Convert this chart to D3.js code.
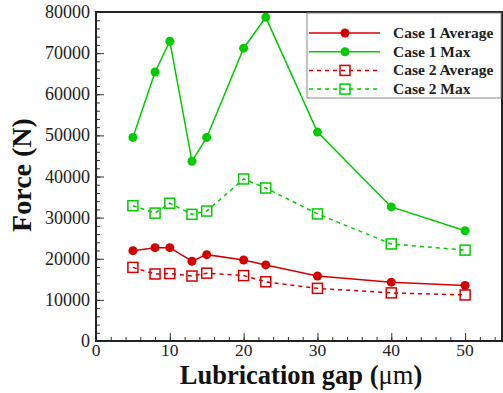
<!DOCTYPE html>
<html>
<head>
<meta charset="utf-8">
<script src="https://cdn.jsdelivr.net/npm/d3@7"></script>
<style>
  body { margin: 0; background: #fff; }
  text { font-family: "Liberation Serif", "Times New Roman", Times, serif; }
</style>
</head>
<body>
<script>
// chart data
var gaps = [5, 8, 10, 13, 15, 20, 23, 30, 40, 50];
var case1Avg = [21970, 22700, 22700, 19400, 21000, 19700, 18500, 15800, 14300, 13500];
var case1Max = [49500, 65400, 72900, 43700, 49500, 71200, 78700, 50800, 32600, 26800];
var case2Avg = [17900, 16300, 16400, 15800, 16500, 15900, 14400, 12800, 11700, 11200];
var case2Max = [32900, 31100, 33500, 30800, 31600, 39400, 37200, 30900, 23600, 22100];
var xTicks = [0, 10, 20, 30, 40, 50];
var yTicks = [0, 10000, 20000, 30000, 40000, 50000, 60000, 70000, 80000];

var red = "#d40000";
var green = "#00cc00";

var series = [
  {name: "Case 1 Average", values: case1Avg, color: red, dashed: false, marker: "circle"},
  {name: "Case 1 Max", values: case1Max, color: green, dashed: false, marker: "circle"},
  {name: "Case 2 Average", values: case2Avg, color: red, dashed: true, marker: "square"},
  {name: "Case 2 Max", values: case2Max, color: green, dashed: true, marker: "square"}
];

var svgWidth = 503;
var svgHeight = 393;
var margin = {top: 12, right: 1, bottom: 52, left: 96};
var width = svgWidth - margin.left - margin.right;
var height = svgHeight - margin.top - margin.bottom;

var svg = d3.select("body").append("svg")
    .attr("width", svgWidth)
    .attr("height", svgHeight);

var g = svg.append("g")
    .attr("transform", `translate(${margin.left}, ${margin.top})`);

var x = d3.scaleLinear().domain([0, 55]).range([0, width]);
var y = d3.scaleLinear().domain([0, 80000]).range([height, 0]);

// minor ticks first (inside)
g.append("g")
    .attr("transform", `translate(0, ${height})`)
    .call(d3.axisTop(x).tickValues(d3.range(0, 56, 2)).tickSize(4).tickFormat(""))
    .call(a => a.select(".domain").remove());
g.append("g")
    .call(d3.axisRight(y).tickValues(d3.range(0, 80001, 2000)).tickSize(4).tickFormat(""))
    .call(a => a.select(".domain").remove());

// major ticks
g.append("g")
    .attr("transform", `translate(0, ${height})`)
    .call(d3.axisTop(x).tickValues(xTicks).tickSize(8).tickFormat(""))
    .call(a => a.select(".domain").remove());
g.append("g")
    .call(d3.axisRight(y).tickValues(yTicks).tickSize(8).tickFormat(""))
    .call(a => a.select(".domain").remove());

g.selectAll(".tick line").attr("stroke", "#333").attr("stroke-width", 1);

// tick labels
g.selectAll(".xlab").data(xTicks).enter().append("text")
    .attr("x", d => x(d))
    .attr("y", height + 15)
    .attr("text-anchor", "middle")
    .attr("font-size", 17.5)
    .attr("fill", "#222")
    .text(d => d);
g.selectAll(".ylab").data(yTicks).enter().append("text")
    .attr("x", -6)
    .attr("y", d => y(d) + 6)
    .attr("text-anchor", "end")
    .attr("font-size", 18)
    .attr("fill", "#222")
    .text(d => d);

// frame
g.append("rect")
    .attr("width", width)
    .attr("height", height)
    .attr("fill", "none")
    .attr("stroke", "#222")
    .attr("stroke-width", 2);

var line = d3.line()
    .x((d, i) => x(gaps[i]))
    .y(d => y(d));

function drawMarker(sel, s, cx, cy) {
  if (s.marker == "circle") {
    sel.append("circle")
        .attr("cx", cx).attr("cy", cy).attr("r", 4.5)
        .attr("fill", s.color);
  } else {
    sel.append("rect")
        .attr("x", cx - 5).attr("y", cy - 5)
        .attr("width", 10).attr("height", 10)
        .attr("fill", "none")
        .attr("stroke", s.color)
        .attr("stroke-width", 1.5);
  }
}

series.forEach(function (s) {
  g.append("path")
      .datum(s.values)
      .attr("d", line)
      .attr("fill", "none")
      .attr("stroke", s.color)
      .attr("stroke-width", 1.5)
      .attr("stroke-dasharray", s.dashed ? "4,4" : null);
  s.values.forEach(function (v, i) {
    drawMarker(g, s, x(gaps[i]), y(v));
  });
});

// legend
var legend = svg.append("g").attr("transform", "translate(307, 13)");
legend.append("rect")
    .attr("width", 194)
    .attr("height", 85)
    .attr("fill", "#fff")
    .attr("stroke", "#888")
    .attr("stroke-width", 1);
series.forEach(function (s, i) {
  var ly = 20 + i * 18.7;
  legend.append("line")
      .attr("x1", 2).attr("x2", 73)
      .attr("y1", ly).attr("y2", ly)
      .attr("stroke", s.color)
      .attr("stroke-width", 1.5)
      .attr("stroke-dasharray", s.dashed ? "4,4" : null);
  drawMarker(legend, s, 38, ly);
  legend.append("text")
      .attr("x", 86)
      .attr("y", ly + 5)
      .attr("font-size", 15.5)
      .attr("font-weight", "bold")
      .attr("fill", "#222")
      .text(s.name);
});

// axis titles
var xTitle = svg.append("text")
    .attr("x", 301)
    .attr("y", 384)
    .attr("text-anchor", "middle")
    .attr("font-size", 26.5)
    .attr("font-weight", "bold")
    .attr("fill", "#111");
xTitle.append("tspan").text("Lubrication gap (");
xTitle.append("tspan").attr("font-weight", "normal").text("μm");
xTitle.append("tspan").text(")");

svg.append("text")
    .attr("transform", "translate(31, 175) rotate(-90)")
    .attr("text-anchor", "middle")
    .attr("font-size", 28)
    .attr("font-weight", "bold")
    .attr("fill", "#111")
    .text("Force (N)");
</script>
</body>
</html>
